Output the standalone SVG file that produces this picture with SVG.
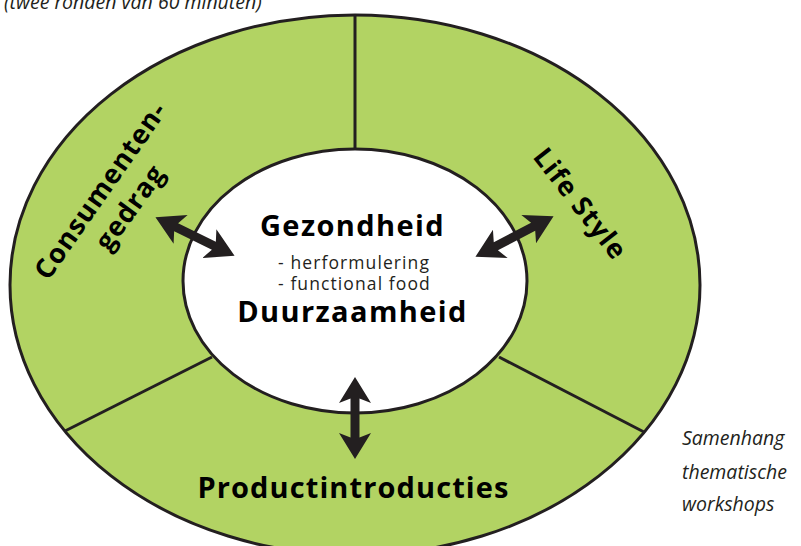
<svg xmlns="http://www.w3.org/2000/svg" width="801" height="546" viewBox="0 0 801 546">
  <style>
    .edge { fill: none; stroke: #231f20; stroke-width: 3; }
    .title { font-family: "Open Sans", "Liberation Sans", sans-serif; font-weight: bold; font-size: 29px; fill: #000; letter-spacing: 1.4px; }
    .ring { font-family: "Open Sans", "Liberation Sans", sans-serif; font-weight: bold; font-size: 27px; fill: #000; letter-spacing: 1px; text-anchor: middle; }
    .sub { font-family: "Open Sans", "Liberation Sans", sans-serif; font-size: 17.5px; fill: #231f20; letter-spacing: 1.1px; }
    .cap { font-family: "Open Sans", "Liberation Sans", sans-serif; font-style: italic; font-size: 19.5px; fill: #231f20; }
    .arrow { fill: #231f20; }
  </style>
  <defs>
    <path id="dbl" d="M-44,0 L-16,-16 L-21,-4.5 L21,-4.5 L16,-16 L44,0 L16,16 L21,4.5 L-21,4.5 L-16,16 Z"/>
  </defs>
  <rect width="801" height="546" fill="#ffffff"/>

  <text class="cap" x="4" y="9">(twee ronden van 60 minuten)</text>

  <g id="outer-ring">
    <ellipse cx="355" cy="285" rx="345" ry="270" fill="#b2d363" stroke="#231f20" stroke-width="3"/>
    <line class="edge" x1="355" y1="15" x2="355" y2="150"/>
    <line class="edge" x1="212" y1="357" x2="65" y2="431"/>
    <line class="edge" x1="499" y1="357" x2="644" y2="432"/>
  </g>

  <g id="consumentengedrag">
    <text class="ring" transform="translate(100,190) rotate(-55)" y="10">Consumenten-</text>
    <text class="ring" transform="translate(131,208) rotate(-54)" y="8">gedrag</text>
  </g>

  <g id="life-style">
    <text class="ring" transform="translate(580,204) rotate(52)" y="9">Life Style</text>
  </g>

  <g id="productintroducties">
    <text class="title" x="353.5" y="498" text-anchor="middle" style="letter-spacing:1.1px">Productintroducties</text>
  </g>

  <g id="center">
    <ellipse cx="355" cy="281" rx="172" ry="132" fill="#ffffff" stroke="#231f20" stroke-width="3"/>
    <text class="title" x="352.5" y="236" text-anchor="middle">Gezondheid</text>
    <text class="sub" x="278" y="269">- herformulering</text>
    <text class="sub" x="278" y="290">- functional food</text>
    <text class="title" x="352.5" y="322" text-anchor="middle">Duurzaamheid</text>
  </g>

  <g id="connectors">
    <use href="#dbl" class="arrow" transform="translate(195,236.5) rotate(26)"/>
    <use href="#dbl" class="arrow" transform="translate(514.5,236.5) rotate(-27.4)"/>
    <use href="#dbl" class="arrow" transform="translate(355,418) rotate(90) scale(0.93,1)"/>
  </g>

  <g id="caption">
    <text class="cap" x="682" y="445">Samenhang</text>
    <text class="cap" x="682" y="479">thematische</text>
    <text class="cap" x="682" y="511">workshops</text>
  </g>
</svg>
